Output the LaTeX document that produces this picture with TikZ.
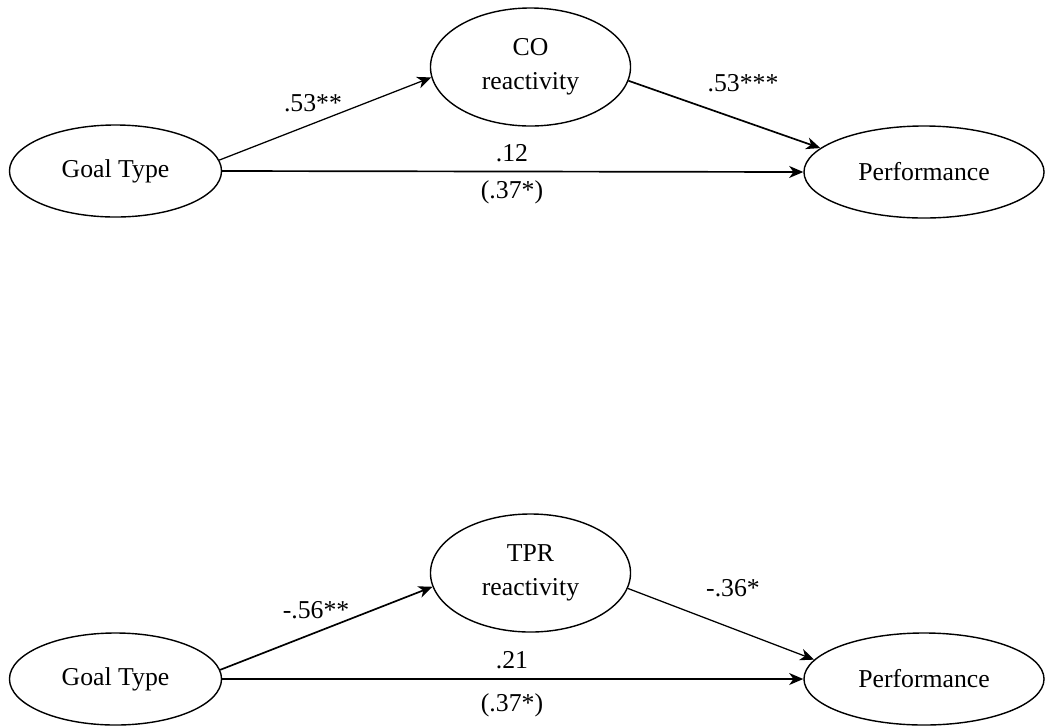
\documentclass[tikz,border=0pt]{standalone}
\usepackage{fontspec}
\setmainfont{Liberation Serif}
\usetikzlibrary{shapes.geometric, arrows.meta}
\tikzset{
  var/.style     = {draw, ellipse, line width=1pt, inner sep=0pt, align=center,
                    font=\fontsize{18.3}{24}\selectfont},
  goalvar/.style = {var, minimum width=5.3cm, minimum height=2.3cm},
  medvar/.style  = {var, minimum width=5.0cm, minimum height=2.95cm},
  perfvar/.style = {var, minimum width=6.0cm, minimum height=2.3cm},
  coef/.style    = {inner sep=0pt, font=\fontsize{18.3}{22}\selectfont},
  arr/.style     = {-{Stealth[length=10pt, width=8.5pt, inset=3pt]}, line width=1.2pt},
  arrthin/.style = {-{Stealth[length=10pt, width=8.5pt, inset=3pt]}, line width=0.9pt},
}
\begin{document}
\begin{tikzpicture}[x=0.025cm, y=-0.025cm]
  \useasboundingbox (0,0) rectangle (1046,726);

  % CO model
  \node[goalvar] (goalA) at (115.5,171) {Goal Type};
  \node[medvar]  (co)    at (530.5,67)  {CO\\reactivity};
  \node[perfvar] (perfA) at (924,172)   {Performance};

  \draw[arrthin] (goalA.6)  -- (co.186);
  \draw[arr]     (co.352)   -- (perfA.167);
  \draw[arr]     (goalA.east) -- (perfA.west);

  \node[coef] (cA1) at (313,103) {.53**};
  \node[coef] (cA2) at (743,83)  {.53***};
  \node[coef] (cA3) at (512,153) {.12};
  \node[coef] (cA4) at (512,192) {(.37*)};

  % TPR model
  \node[goalvar] (goalB) at (115.5,679) {Goal Type};
  \node[medvar]  (tpr)   at (530.5,573) {TPR\\reactivity};
  \node[perfvar] (perfB) at (924,679)   {Performance};

  \draw[arr]     (goalB.5)  -- (tpr.188);
  \draw[arrthin] (tpr.351)  -- (perfB.170);
  \draw[arr]     (goalB.east) -- (perfB.west);

  \node[coef] (cB1) at (316,610) {-.56**};
  \node[coef] (cB2) at (733,588) {-.36*};
  \node[coef] (cB3) at (512,660) {.21};
  \node[coef] (cB4) at (512,705) {(.37*)};
\end{tikzpicture}
\end{document}
